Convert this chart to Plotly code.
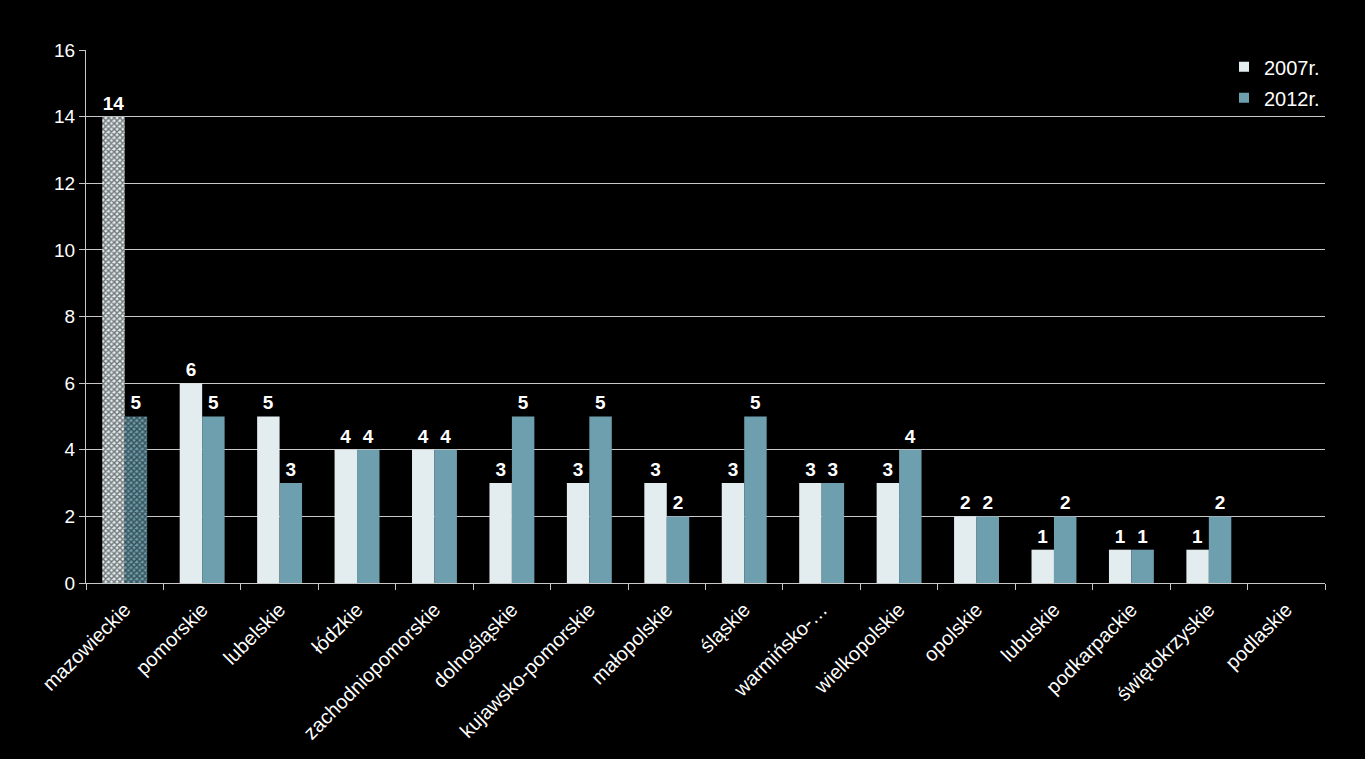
import plotly.graph_objects as go

# Data
regions = ["mazowieckie", "pomorskie", "lubelskie", "łódzkie", "zachodniopomorskie",
           "dolnośląskie", "kujawsko-pomorskie", "małopolskie", "śląskie", "warmińsko-…",
           "wielkopolskie", "opolskie", "lubuskie", "podkarpackie", "świętokrzyskie",
           "podlaskie"]
values_2007 = [14, 6, 5, 4, 4, 3, 3, 3, 3, 3, 3, 2, 1, 1, 1, None]
values_2012 = [5, 5, 3, 4, 4, 5, 5, 2, 5, 3, 4, 2, 2, 1, 2, None]
y_ticks = [0, 2, 4, 6, 8, 10, 12, 14, 16]

FONT = "Liberation Sans, Arial, sans-serif"
colours = {"2007r.": "#E3ECEF", "2012r.": "#6E9FAE"}

# only the first category gets the checker pattern
pattern = ["x"] + [""] * (len(regions) - 1)


def bar_trace(name, values):
    return go.Bar(
        name=name, x=regions, y=values, showlegend=False, legendgroup=name,
        marker=dict(color=colours[name], line_width=0,
                    pattern=dict(shape=pattern, fgcolor="black", size=4, solidity=0.6)),
        text=[str(v) if v is not None else "" for v in values],
        textposition="outside",
        textfont=dict(family=FONT, size=19, color="white", weight="bold"),
        cliponaxis=False,
    )


def legend_entry(name):
    # plain square swatch for the legend (bars carry the pattern)
    return go.Scatter(name=name, x=[regions[0]], y=[None], mode="markers",
                      legendgroup=name,
                      marker=dict(symbol="square", size=10, color=colours[name]))


fig = go.Figure()
fig.add_trace(bar_trace("2007r.", values_2007))
fig.add_trace(bar_trace("2012r.", values_2012))
fig.add_trace(legend_entry("2007r."))
fig.add_trace(legend_entry("2012r."))

fig.update_layout(
    width=1365, height=759,
    paper_bgcolor="black", plot_bgcolor="black",
    font=dict(family=FONT, size=19, color="white"),
    barmode="group", bargap=0.42, bargroupgap=0,
    margin=dict(l=86, r=40, t=50, b=176),
    legend=dict(x=1, y=1.005, xanchor="right", yanchor="top",
                bgcolor="rgba(0,0,0,0)", font=dict(size=20),
                itemwidth=30, tracegroupgap=2),
    showlegend=True,
)
fig.update_yaxes(range=[0, 16], tickvals=y_ticks, showgrid=True, gridcolor="#C8C8C8",
                 gridwidth=1, showline=True, linecolor="#C8C8C8", ticks="outside",
                 ticklen=6, tickcolor="#C8C8C8", zeroline=False,
                 tickfont=dict(size=19))
fig.update_xaxes(range=[-0.5, len(regions) - 0.5], tickangle=-45, showline=True,
                 linecolor="#C8C8C8", ticks="outside", tickson="boundaries",
                 ticklen=6, tickcolor="#C8C8C8", tickfont=dict(size=20),
                 ticklabelstandoff=6)

fig.write_html("out.html", config={"displayModeBar": False},
               post_script="document.body.style.margin='0';")
